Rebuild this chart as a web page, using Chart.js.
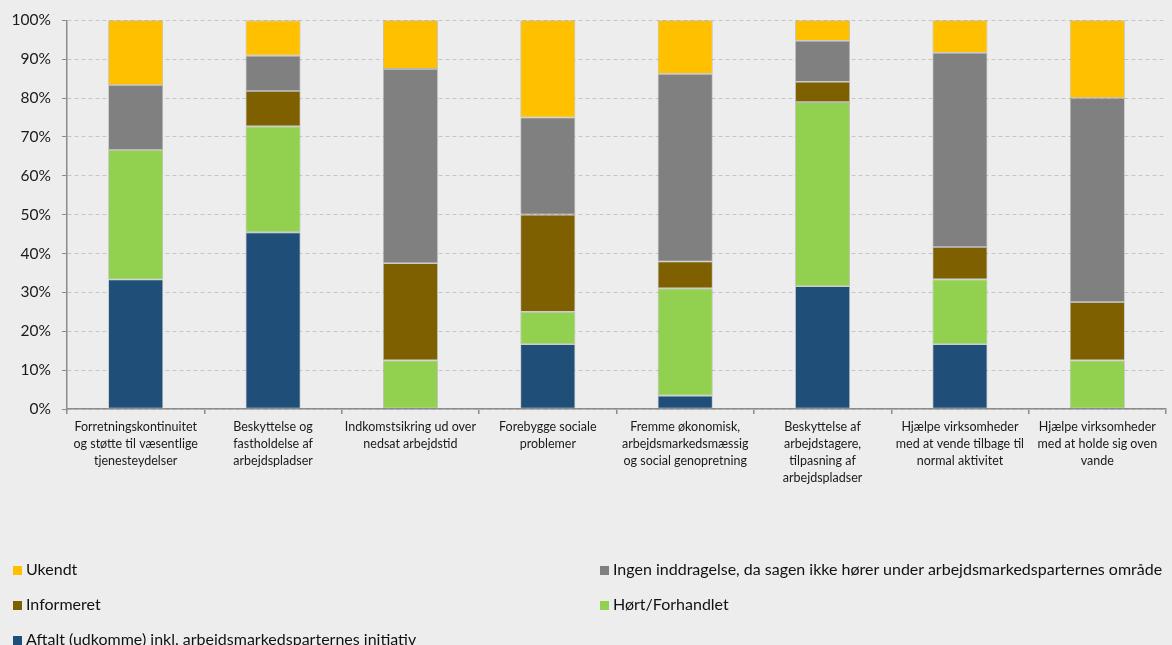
<!DOCTYPE html>
<html>
<head>
<meta charset="utf-8">
<script src="https://cdn.jsdelivr.net/npm/chart.js@4/dist/chart.umd.min.js"></script>
<style>
  html, body { margin: 0; padding: 0; background: #ededed; overflow: hidden; }
  #wrap { position: relative; width: 1172px; height: 645px; }
  #legende { position: absolute; left: 0; top: 0; width: 1172px; height: 645px; pointer-events: none;
             font-family: Lato, "Noto Sans", sans-serif; font-size: 16px; color: #111; }
  .punkt { position: absolute; white-space: nowrap; line-height: 18px; }
  .punkt i { display: inline-block; width: 9px; height: 9px; margin-right: 4px; vertical-align: 0px; }
</style>
</head>
<body>
<div id="wrap">
  <canvas id="canvas_grafica" width="1172" height="645"></canvas>
  <div id="legende"></div>
</div>
<script>
const kategorier = [
  ["Forretningskontinuitet", "og støtte til væsentlige", "tjenesteydelser"],
  ["Beskyttelse og", "fastholdelse af", "arbejdspladser"],
  ["Indkomstsikring ud over", "nedsat arbejdstid"],
  ["Forebygge sociale", "problemer"],
  ["Fremme økonomisk,", "arbejdsmarkedsmæssig", "og social genopretning"],
  ["Beskyttelse af", "arbejdstagere,", "tilpasning af", "arbejdspladser"],
  ["Hjælpe virksomheder", "med at vende tilbage til", "normal aktivitet"],
  ["Hjælpe virksomheder", "med at holde sig oven", "vande"]
];

// andele i procent, nederst i stakken først
const aftalt     = [33.33, 45.45, 0,    16.67, 3.45,  31.58, 16.67, 0];
const hort       = [33.33, 27.27, 12.5, 8.33,  27.59, 47.37, 16.67, 12.5];
const informeret = [0,     9.09,  25,   25,    6.90,  5.26,  8.33,  15];
const ingen      = [16.67, 9.09,  50,   25,    48.28, 10.53, 50,    52.5];
const ukendt     = [16.67, 9.09,  12.5, 25,    13.79, 5.26,  8.33,  20];

const yTicks = [0, 10, 20, 30, 40, 50, 60, 70, 80, 90, 100];

const serier = [
  { label: "Aftalt (udkomme) inkl. arbejdsmarkedsparternes initiativ", data: aftalt, farve: "#1f4e79" },
  { label: "Hørt/Forhandlet", data: hort, farve: "#92d050" },
  { label: "Informeret", data: informeret, farve: "#7f6000" },
  { label: "Ingen inddragelse, da sagen ikke hører under arbejdsmarkedsparternes område", data: ingen, farve: "#808080" },
  { label: "Ukendt", data: ukendt, farve: "#ffc000" }
];

const skrift = "Lato, 'Noto Sans', sans-serif";

let canvas_graf = document.getElementById("canvas_grafica");
new Chart(canvas_graf, {
  type: "bar",
  data: {
    labels: kategorier,
    datasets: serier.map(s => ({
      label: s.label,
      data: s.data,
      backgroundColor: s.farve,
      borderColor: "rgba(140,140,140,0.55)",
      borderWidth: 0.8,
      borderSkipped: false,
      categoryPercentage: 0.8,
      barPercentage: 0.5
    }))
  },
  options: {
    responsive: false,
    animation: false,
    layout: { padding: { top: 19, right: 6, left: 0, bottom: 0 } },
    plugins: { legend: { display: false }, tooltip: { enabled: false } },
    scales: {
      x: {
        stacked: true,
        afterFit: s => { s.height = 236; },
        border: { display: true, color: "#8c8c8c", width: 1.5 },
        grid: { drawOnChartArea: false, drawTicks: true, tickLength: 5, color: "#8c8c8c", lineWidth: 1.5 },
        ticks: { color: "#1a1a1a", font: { family: skrift, size: 12.5, lineHeight: 1.36 }, maxRotation: 0, autoSkip: false, padding: 4 }
      },
      y: {
        stacked: true,
        min: 0,
        max: 100,
        afterFit: s => { s.width = 67; },
        afterBuildTicks: s => { s.ticks = yTicks.map(v => ({ value: v })); },
        // dash gælder gitterlinjerne, selve aksen tegnes fuldt optrukket
        border: { display: true, color: "#8c8c8c", width: 1.5, dash: [4, 3] },
        grid: {
          color: "#c6c6c6",
          lineWidth: 1,
          tickLength: 5,
          tickColor: "#8c8c8c"
        },
        ticks: { color: "#1a1a1a", font: { family: skrift, size: 15.5 }, padding: 11, callback: v => v + "%" }
      }
    }
  }
});

// forklaring i to kolonner, omvendt rækkefølge
let legende = document.getElementById("legende");
let pladser = [[13, 560], [600, 560], [13, 595], [600, 595], [13, 630]];
serier.slice().reverse().forEach((s, i) => {
  let d = document.createElement("div");
  d.className = "punkt";
  d.style.left = pladser[i][0] + "px";
  d.style.top = pladser[i][1] + "px";
  d.innerHTML = '<i style="background:' + s.farve + '"></i>';
  d.appendChild(document.createTextNode(s.label));
  legende.appendChild(d);
});
</script>
</body>
</html>
